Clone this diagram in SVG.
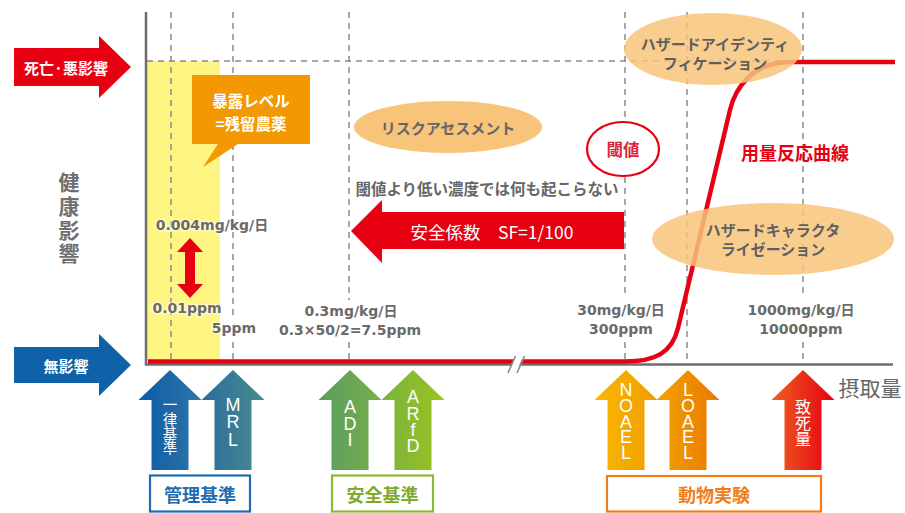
<svg xmlns="http://www.w3.org/2000/svg" width="905" height="513" viewBox="0 0 905 513">
<style>
.jp{font-family:"Noto Sans CJK JP","Noto Sans",sans-serif;font-weight:bold;dominant-baseline:central;text-anchor:middle}
.jr{font-family:"Noto Sans CJK JP","Noto Sans",sans-serif;font-weight:normal;dominant-baseline:central;text-anchor:middle}
.num{font-family:"DejaVu Sans","Noto Sans CJK JP",sans-serif;font-weight:bold;font-size:14px;fill:#6a6a6a;text-anchor:middle;dominant-baseline:central}
.halo{stroke:#ffffff;stroke-opacity:0.55;stroke-width:3;paint-order:stroke;stroke-linejoin:round}
.dash{stroke:#8a8a8a;stroke-width:1.5;stroke-dasharray:6 5;fill:none}
.ell{fill:#f7c47a}
.vl{font-family:"Liberation Sans",Arial,sans-serif;font-size:18px;fill:#ffffff;text-anchor:middle;dominant-baseline:central}
.box{fill:#ffffff;stroke-width:2.2}
</style>
<defs>
<linearGradient id="g1" x1="0" y1="0" x2="1" y2="0"><stop offset="0" stop-color="#0b5ca8"/><stop offset="1" stop-color="#2f75a5"/></linearGradient>
<linearGradient id="g2" x1="0" y1="0" x2="1" y2="0"><stop offset="0" stop-color="#2a6d9d"/><stop offset="1" stop-color="#4a8b8d"/></linearGradient>
<linearGradient id="g3" x1="0" y1="0" x2="1" y2="0"><stop offset="0" stop-color="#5a9d60"/><stop offset="1" stop-color="#78ae4a"/></linearGradient>
<linearGradient id="g4" x1="0" y1="0" x2="1" y2="0"><stop offset="0" stop-color="#7bb140"/><stop offset="1" stop-color="#9bc41e"/></linearGradient>
<linearGradient id="g5" x1="0" y1="0" x2="1" y2="0"><stop offset="0" stop-color="#f8b800"/><stop offset="1" stop-color="#f09c00"/></linearGradient>
<linearGradient id="g6" x1="0" y1="0" x2="1" y2="0"><stop offset="0" stop-color="#f1a200"/><stop offset="1" stop-color="#ec7800"/></linearGradient>
<linearGradient id="g7" x1="0" y1="0" x2="1" y2="0"><stop offset="0" stop-color="#ef5f22"/><stop offset="1" stop-color="#e50012"/></linearGradient>
</defs>

<rect x="0" y="0" width="905" height="513" fill="#ffffff"/>

<!-- exposure band -->
<rect id="exposure-band" x="147" y="61" width="73" height="300" fill="#fff582"/>

<!-- grid -->
<g id="grid">
<path class="dash" d="M171,12V360M233,12V360M349,12V360M625,12V360M687,12V360M803,12V360M147,61H792"/>
</g>

<!-- white label backgrounds -->
<g id="label-bg" fill="#ffffff">
<rect x="276" y="300" width="150" height="41"/>
<rect x="573" y="298" width="97" height="40"/>
<rect x="743" y="298" width="116" height="40"/>
<rect x="221" y="318" width="36" height="24"/>
</g>

<g id="connectors">
<!-- axes -->
<path d="M146,12V364.5H893" fill="none" stroke="#6e6e6e" stroke-width="2.5"/>
<!-- dose response curve -->
<path d="M148,361.5H625C655,361.5 672,353 678,328L730,110C735,89 752,62 790,62H895" fill="none" stroke="#e60012" stroke-width="4.5" stroke-linejoin="round"/>
<!-- axis break -->
<polygon points="509,370 516,355 524,355 517,370" fill="#ffffff"/>
<path d="M508,373L515.5,356M517,373L524.5,356" stroke="#8a8a8a" stroke-width="1.6"/>
<!-- double arrow -->
<polygon points="190,238 203,252 195,252 195,284 203,284 190,298 177,284 185,284 185,252 177,252" fill="#e60012"/>
</g>

<!-- left arrows -->
<g id="death">
<polygon points="14,48 99,48 99,36 131,67 99,98 99,86 14,86" fill="#e60012"/>
<text class="jp" x="66" y="67" font-size="15" fill="#ffffff">死亡·悪影響</text>
</g>
<g id="no-effect">
<polygon points="14,347 99,347 99,334 131,365 99,396 99,383 14,383" fill="#0f62a8"/>
<text class="jp" x="66" y="365" font-size="15" fill="#ffffff">無影響</text>
</g>

<g id="y-label">
<text class="jp" font-size="21" fill="#707070"><tspan x="69" y="181">健</tspan><tspan x="69" y="205">康</tspan><tspan x="69" y="229">影</tspan><tspan x="69" y="252">響</tspan></text>
</g>

<g id="x-label">
<text class="jr" x="870" y="387" font-size="21" fill="#666666">摂取量</text>
</g>

<!-- callout -->
<g id="exposure-callout">
<path d="M192,75H310V144H238L203,167L218,144H192Z" fill="#f39800"/>
<text class="jp" x="251" y="100" font-size="15.5" fill="#ffffff">暴露レベル</text>
<text class="jp" x="251" y="123" font-size="15.5" fill="#ffffff">=残留農薬</text>
</g>

<g id="risk-assessment">
<ellipse class="ell" cx="448" cy="127" rx="94" ry="26"/>
<text class="jp" x="448" y="127" font-size="15" fill="#666666">リスクアセスメント</text>
</g>

<g id="no-effect-note">
<text class="jp" x="487" y="188" font-size="15.5" fill="#666666">閾値より低い濃度では何も起こらない</text>
</g>

<g id="safety-factor">
<polygon points="624,212 382,212 382,200 351,231 382,263 382,249 624,249" fill="#e60012"/>
<text class="jp" x="492" y="231" font-size="17.5" fill="#ffffff" style="font-weight:normal">安全係数　SF=1/100</text>
</g>

<g id="threshold">
<ellipse cx="623" cy="149" rx="36" ry="27" fill="#ffffff" stroke="#e60012" stroke-width="2.2"/>
<text class="jp" x="623" y="149" font-size="16.5" fill="#d7263a">閾値</text>
</g>

<g id="curve-label">
<text class="jp" x="795" y="152" font-size="18" fill="#e60012">用量反応曲線</text>
</g>

<g id="hazard-id">
<ellipse class="ell" cx="713" cy="49" rx="89" ry="36" fill-opacity="0.85"/>
<text class="jp" x="715" y="43" font-size="15" fill="#5f5f5f">ハザードアイデンティ</text>
<text class="jp" x="715" y="62" font-size="15" fill="#5f5f5f">フィケーション</text>
</g>

<g id="hazard-char">
<ellipse class="ell" cx="773" cy="239" rx="121" ry="36" fill-opacity="0.85"/>
<text class="jp" x="773" y="229" font-size="15" fill="#5f5f5f">ハザードキャラクタ</text>
<text class="jp" x="773" y="248.5" font-size="15" fill="#5f5f5f">ライゼーション</text>
</g>

<!-- dose labels -->
<g id="dose-labels">
<text class="num halo" x="212" y="225">0.004mg/kg/日</text>
<text class="num halo" x="187" y="308">0.01ppm</text>
<text class="num halo" x="234" y="328">5ppm</text>
<text class="num" x="351" y="311">0.3mg/kg/日</text>
<text class="num" x="350" y="330">0.3×50/2=7.5ppm</text>
<text class="num" x="621" y="310">30mg/kg/日</text>
<text class="num" x="621" y="329">300ppm</text>
<text class="num" x="801" y="310">1000mg/kg/日</text>
<text class="num" x="801" y="329">10000ppm</text>
</g>

<!-- bottom arrows -->
<g id="uniform-standard">
<path d="M170,370L201.5,400H188.5V470H151.5V400H138.5Z" fill="url(#g1)"/>
<text class="jr" font-size="14.5" fill="#ffffff"><tspan x="170" y="403">一</tspan><tspan x="170" y="418">律</tspan><tspan x="170" y="432">基</tspan><tspan x="170" y="446">準</tspan></text>
</g>
<g id="mrl">
<path d="M233,370L264.5,400H251.5V470H214.5V400H201.5Z" fill="url(#g2)"/>
<text class="vl"><tspan x="233" y="405">M</tspan><tspan x="233" y="422">R</tspan><tspan x="233" y="440">L</tspan></text>
</g>
<g id="adi">
<path d="M350,370L381.5,400H368.5V470H331.5V400H318.5Z" fill="url(#g3)"/>
<text class="vl"><tspan x="350" y="407">A</tspan><tspan x="350" y="424">D</tspan><tspan x="350" y="440">I</tspan></text>
</g>
<g id="arfd">
<path d="M413,370L444.5,400H431.5V470H394.5V400H381.5Z" fill="url(#g4)"/>
<text class="vl"><tspan x="413" y="397">A</tspan><tspan x="413" y="414">R</tspan><tspan x="413" y="430">f</tspan><tspan x="413" y="446">D</tspan></text>
</g>
<g id="noael">
<path d="M626,370L657.5,400H644.5V470H607.5V400H594.5Z" fill="url(#g5)"/>
<text class="vl"><tspan x="626" y="390">N</tspan><tspan x="626" y="406">O</tspan><tspan x="626" y="422">A</tspan><tspan x="626" y="437">E</tspan><tspan x="626" y="453">L</tspan></text>
</g>
<g id="loael">
<path d="M688,370L719.5,400H706.5V470H669.5V400H656.5Z" fill="url(#g6)"/>
<text class="vl"><tspan x="688" y="390">L</tspan><tspan x="688" y="406">O</tspan><tspan x="688" y="422">A</tspan><tspan x="688" y="437">E</tspan><tspan x="688" y="453">L</tspan></text>
</g>
<g id="lethal-dose">
<path d="M803,370L834.5,400H821.5V470H784.5V400H771.5Z" fill="url(#g7)"/>
<text class="jr" font-size="16" fill="#ffffff"><tspan x="803" y="406">致</tspan><tspan x="803" y="422">死</tspan><tspan x="803" y="438">量</tspan></text>
</g>

<!-- category boxes -->
<g id="management-standard">
<rect class="box" x="150" y="475.5" width="100" height="36" stroke="#1f6cb0"/>
<text class="jp" x="200" y="494" font-size="18" fill="#1f6cb0">管理基準</text>
</g>
<g id="safety-standard">
<rect class="box" x="332" y="475.5" width="101" height="36" stroke="#8cb833"/>
<text class="jp" x="382.5" y="494" font-size="18" fill="#7eab2c">安全基準</text>
</g>
<g id="animal-test">
<rect class="box" x="607" y="476" width="214" height="35.5" stroke="#ef7d1a"/>
<text class="jp" x="714" y="494" font-size="18" fill="#ef7d1a">動物実験</text>
</g>
</svg>
